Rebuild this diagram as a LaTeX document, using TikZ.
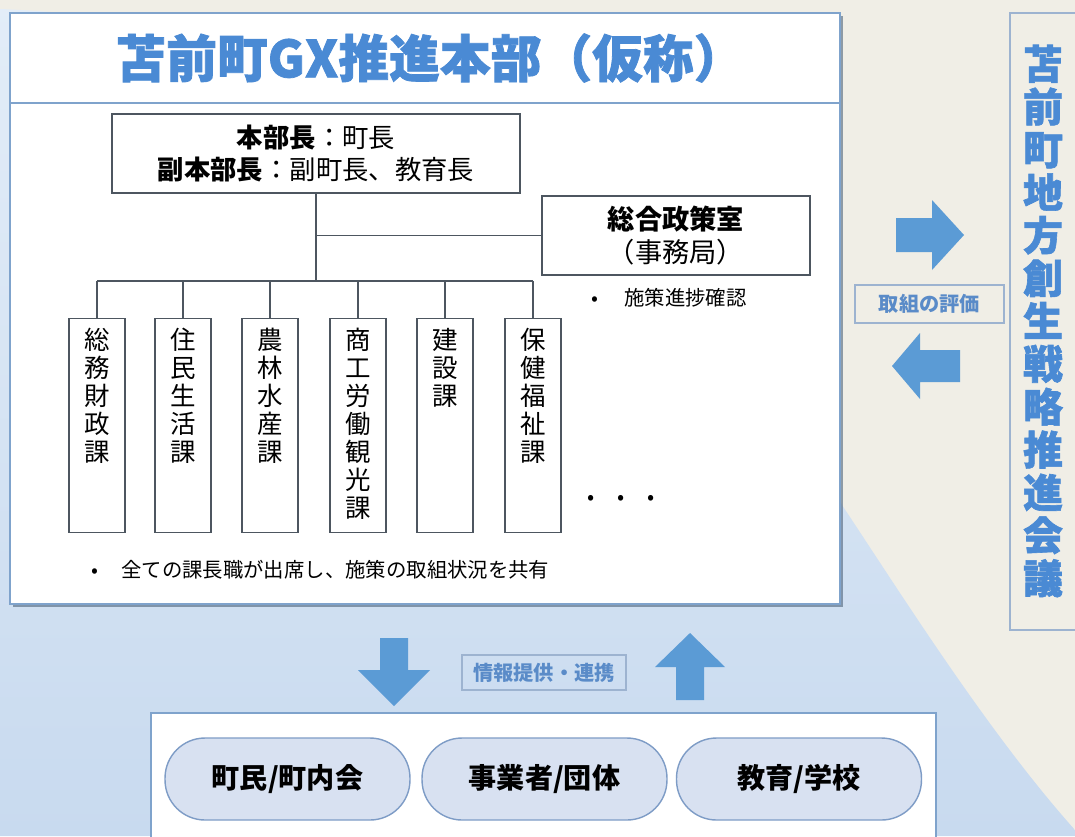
\documentclass[tikz,border=0pt]{standalone}
\usepackage{fontspec}
\setmainfont{Noto Sans CJK JP}
\newfontfamily\heavyfont{Noto Sans CJK JP}[BoldFeatures={FakeBold=1.5}]
\usetikzlibrary{positioning,shadows,calc}

\definecolor{gxblue}{HTML}{4A8AD4}
\definecolor{arrowblue}{HTML}{5B9BD5}
\definecolor{framecol}{HTML}{7FA3CC}
\definecolor{tagcol}{HTML}{9DB3D0}
\definecolor{tagtext}{HTML}{5A8BC8}
\definecolor{pillfill}{HTML}{D8E1F1}
\definecolor{pillline}{HTML}{7E9CC6}
\definecolor{bgbeige}{HTML}{F0EEE6}
\definecolor{bgbluetop}{HTML}{E3EDF8}
\definecolor{bgbluebot}{HTML}{C8DAEF}
\definecolor{linecol}{HTML}{4D5660}

\tikzset{
	orgline/.style={draw=linecol, line width=0.6pt},
	orgbox/.style={draw=linecol, line width=0.8pt, fill=white, inner sep=0pt, align=center},
	deptbox/.style={orgbox, minimum width=1.12cm, minimum height=4.28cm, anchor=north},
	depttext/.style={align=center, inner sep=0pt, anchor=north, font=\fontsize{14.5pt}{15.9pt}\selectfont},
	notetext/.style={anchor=west, inner sep=0pt, font=\fontsize{11.6pt}{14pt}\selectfont},
	tagbox/.style={draw=tagcol, line width=0.7pt, inner sep=0pt, text=tagtext, font=\fontsize{11.5pt}{14pt}\selectfont\bfseries},
	pill/.style={draw=pillline, line width=0.8pt, fill=pillfill, rounded corners=0.8cm, minimum width=4.9cm, minimum height=1.64cm, font=\fontsize{16pt}{18pt}\selectfont\bfseries},
	frame/.style={draw=framecol, line width=1pt, fill=white, inner sep=0pt}
}

\begin{document}
\begin{tikzpicture}[x=0.02cm, y=-0.02cm]
	\useasboundingbox (0,0) rectangle (1075,836);
	\clip (0,0) rectangle (1075,836);

	\fill[bgbeige] (0,0) rectangle (1075,836);
	\begin{scope}
		\clip (0,9) .. controls (500,30) and (760,300) .. (842,505) .. controls (905,600) and (990,735) .. (1075,830) -- (1075,836) -- (0,836) -- cycle;
		\shade[top color=bgbluetop, bottom color=bgbluebot] (0,0) rectangle (1075,836);
	\end{scope}

	\node[frame, minimum width=16.6cm, minimum height=11.82cm, drop shadow={shadow xshift=1.5pt, shadow yshift=-1.5pt, fill=black!40!framecol, opacity=0.6}] (hq) at (425,308.5) {};
	\draw[framecol, line width=1pt] (hq.west |- 0,103) -- (hq.east |- 0,103);
	\node[text=gxblue, font=\fontsize{28.9pt}{30pt}\heavyfont\bfseries] (title) at (430,58) {苫前町GX推進本部（仮称）};

	\node[orgbox, minimum width=8.16cm, minimum height=1.58cm, font=\fontsize{15pt}{18.7pt}\selectfont] (chief) at (316,153.5) {\textbf{本部長}：町長\\\textbf{副本部長}：副町長、教育長};
	\node[orgbox, minimum width=5.36cm, minimum height=1.58cm, font=\fontsize{15.5pt}{19.3pt}\selectfont] (office) at (676,235.5) {\textbf{総合政策室}\\（事務局）};
	\node[notetext] (progress) at (591,298) {\makebox[0.66cm][l]{•}施策進捗確認};

	\coordinate (bus) at (316,281);
	\draw[orgline] (chief.south) -- (bus);
	\draw[orgline] (chief.south |- office.west) -- (office.west);

	\node[deptbox] (d1) at (97,318) {};
	\node[deptbox] (d2) at (183,318) {};
	\node[deptbox] (d3) at (270,318) {};
	\node[deptbox] (d4) at (358,318) {};
	\node[deptbox] (d5) at (445,318) {};
	\node[deptbox] (d6) at (533,318) {};
	\node[depttext] (t1) at (97,328) {総\\務\\財\\政\\課};
	\node[depttext] (t2) at (183,328) {住\\民\\生\\活\\課};
	\node[depttext] (t3) at (270,328) {農\\林\\水\\産\\課};
	\node[depttext] (t4) at (358,328) {商\\工\\労\\働\\観\\光\\課};
	\node[depttext] (t5) at (445,328) {建\\設\\課};
	\node[depttext] (t6) at (533,328) {保\\健\\福\\祉\\課};

	\draw[orgline] (d1.north |- bus) -- (d6.north |- bus);
	\foreach \i in {1,...,6}
		\draw[orgline] (d\i.north |- bus) -- (d\i.north);

	\node[font=\fontsize{12pt}{14pt}\selectfont] (more) at (621,500) {•\hspace{0.45cm}•\hspace{0.45cm}•};
	\node[notetext] (share) at (91,570) {\makebox[0.6cm][l]{•}全ての課長職が出席し、施策の取組状況を共有};

	\fill[arrowblue] (380,638) -- (408,638) -- (408,670) -- (430,670) -- (394,706) -- (358,670) -- (380,670) -- cycle;
	\fill[arrowblue] (676,700) -- (704,700) -- (704,667) -- (725,667) -- (690,633) -- (655,667) -- (676,667) -- cycle;
	\node[tagbox, minimum width=3.28cm, minimum height=0.7cm] (infoTag) at (544,672.5) {情報提供・連携};

	\node[frame, line width=0.8pt, minimum width=15.7cm, minimum height=2.74cm] (stake) at (543.5,781.5) {};
	\node[pill] (p1) at (287.5,779) {町民/町内会};
	\node[pill] (p2) at (544.5,779) {事業者/団体};
	\node[pill] (p3) at (799,779) {教育/学校};

	\fill[arrowblue] (896,218) -- (932,218) -- (932,200) -- (964,235) -- (932,270) -- (932,252) -- (896,252) -- cycle;
	\fill[arrowblue] (960,350) -- (920,350) -- (920,333) -- (892,366) -- (920,399) -- (920,382) -- (960,382) -- cycle;
	\node[tagbox, minimum width=2.98cm, minimum height=0.76cm] (evalTag) at (929.5,304) {取組の評価};

	\node[draw=tagcol, line width=0.7pt, minimum width=1.6cm, minimum height=12.34cm] (council) at (1050,321.5) {};
	\node[align=center, inner sep=0pt, text=gxblue, font=\fontsize{22.7pt}{24.4pt}\heavyfont\bfseries] (councilText) at (1043,321) {苫\\前\\町\\地\\方\\創\\生\\戦\\略\\推\\進\\会\\議};
\end{tikzpicture}
\end{document}
